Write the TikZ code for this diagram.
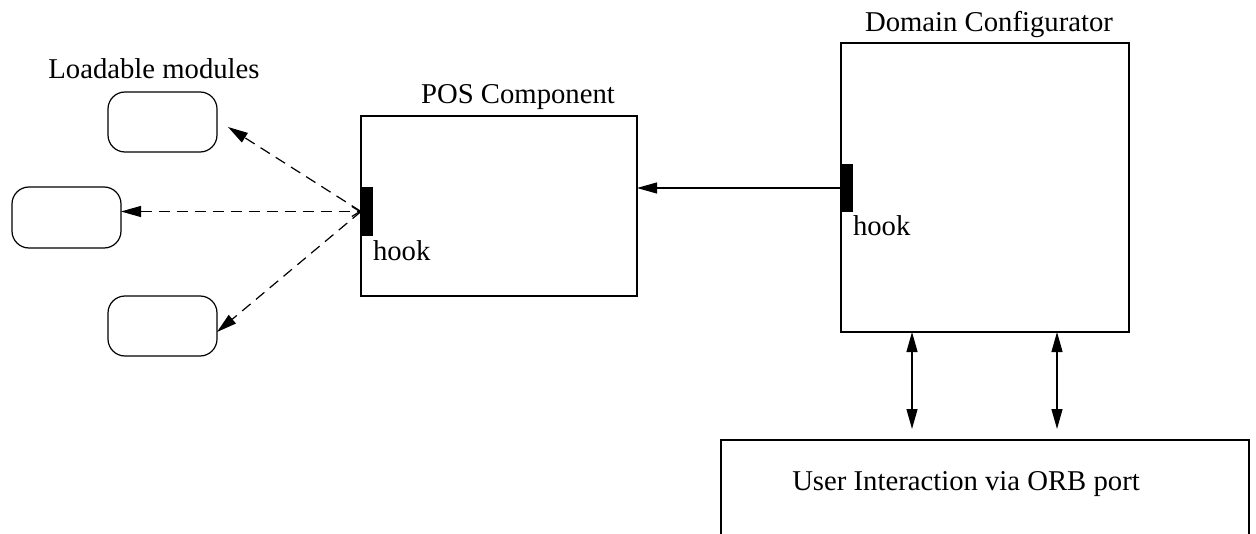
\documentclass[tikz,border=0pt]{standalone}
\usepackage{fontspec}
\setmainfont{Liberation Serif}
\usetikzlibrary{arrows.meta,calc}
\begin{document}
\begin{tikzpicture}[x=0.5pt,y=-0.5pt,
  box/.style={draw,line width=0.6pt,inner sep=0pt,outer sep=0pt},
  module/.style={box,rounded corners=8.5pt},
  hookbar/.style={fill=black,draw=none,inner sep=0pt,outer sep=0pt,minimum width=6pt},
  lbl/.style={inner sep=0pt,outer sep=0pt,font=\fontsize{14.35}{17}\selectfont},
  link/.style={line width=0.6pt},
  dashlink/.style={link,dash pattern=on 5.5pt off 3.5pt},
  solidtip/.tip={Triangle[length=10pt,width=5.5pt]},
  opentip/.tip={Straight Barb[length=4pt,width=5pt,line width=0.6pt]},
]
\useasboundingbox (0,0) rectangle (1256,534);
\clip (0,0) rectangle (1256,534);

% loadable modules
\node[lbl,anchor=base] (modtitle) at (154,79) {Loadable modules};
\node[module,minimum width=54.5pt,minimum height=30pt] (mod1) at (162.5,122) {};
\node[module,minimum width=54.5pt,minimum height=30.5pt] (mod2) at (66.5,217.5) {};
\node[module,minimum width=54.5pt,minimum height=30pt] (mod3) at (162.5,326) {};

% POS component with its hook
\node[lbl,anchor=base] (postitle) at (518,104) {POS Component};
\node[box,minimum width=138pt,minimum height=90pt] (pos) at (499,206) {};
\node[hookbar,minimum height=24.5pt] (poshook) at (367,211.5) {};
\node[lbl,anchor=base west] (poshooktxt) at (373,260) {hook};

% domain configurator with its hook
\node[lbl,anchor=base] (dctitle) at (989,32) {Domain Configurator};
\node[box,minimum width=144pt,minimum height=144.5pt] (dc) at (985,187.5) {};
\node[hookbar,minimum height=24pt] (dchook) at (847,188) {};
\node[lbl,anchor=base west] (dchooktxt) at (853,235) {hook};

% user interaction
\node[box,minimum width=264pt,minimum height=70pt] (ui) at (985,510) {};
\node[lbl,anchor=base] (uitxt) at (966,490) {User Interaction via ORB port};

% free ends and columns of the arrows
\coordinate (t1) at (228,127);
\coordinate (t3) at (217,332);
\coordinate (c1) at (912,0);
\coordinate (c2) at (1057,0);

% connectors
\draw[link,-{solidtip}] (dchook.west) -- (dchook.west -| pos.east);
\draw[dashlink,{solidtip}-{opentip}] (mod2.east |- poshook.west) -- (poshook.west);
\draw[dashlink,-{solidtip}] (poshook.west) -- (t1);
\draw[dashlink,-{solidtip}] (poshook.west) -- (t3);
\draw[link,{solidtip}-{solidtip}] (dc.south -| c1) -- ($(ui.north -| c1)+(0,-11)$);
\draw[link,{solidtip}-{solidtip}] (dc.south -| c2) -- ($(ui.north -| c2)+(0,-11)$);
\end{tikzpicture}
\end{document}
